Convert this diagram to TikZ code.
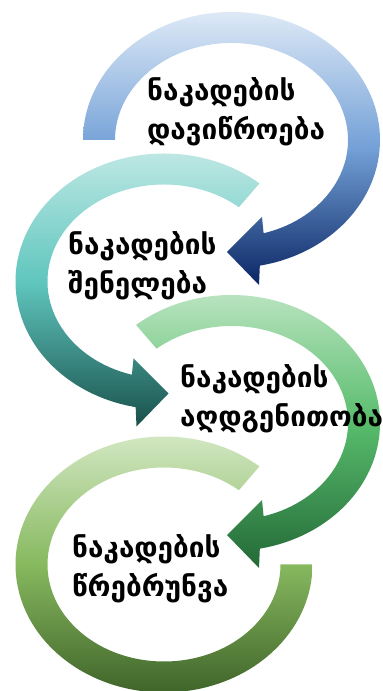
\documentclass[tikz,border=0pt]{standalone}
\usepackage{fontspec}
\newfontfamily\geofont{DejaVu Sans}
\usepackage{tikz}
\usetikzlibrary{calc}
\definecolor{blueA}{RGB}{221,233,246}
\definecolor{blueB}{RGB}{115,160,215}
\definecolor{blueC}{RGB}{10,38,100}
\definecolor{tealA}{RGB}{200,235,232}
\definecolor{tealB}{RGB}{95,198,190}
\definecolor{tealC}{RGB}{25,80,75}
\definecolor{greenA}{RGB}{195,232,200}
\definecolor{greenB}{RGB}{88,188,108}
\definecolor{greenC}{RGB}{35,105,55}
\definecolor{oliveA}{RGB}{218,236,205}
\definecolor{oliveB}{RGB}{135,185,95}
\definecolor{oliveC}{RGB}{55,90,35}
% band of one circular arrow, #1 = angle where it starts
\newcommand{\arrowring}[1]{(#1:148.5 and 128)
  arc[start angle=#1, end angle=-79, x radius=148.5, y radius=128]
  -- (27.5,-145) -- (-4.5,-112) -- (30.5,-77) -- (-74:116.5 and 97)
  arc[start angle=-74, end angle=#1, x radius=116.5, y radius=97] -- cycle}

\begin{document}
\begin{tikzpicture}[x=1bp, y=1bp,
 ring1/.style = {top color=blueA, bottom color=blueC, middle color=blueB},% shadings of arrows
 ring2/.style = {top color=tealA, bottom color=tealC, middle color=tealB},
 ring3/.style = {top color=greenA, bottom color=greenC, middle color=greenB},
 ring4/.style = {top color=oliveA, bottom color=oliveC, middle color=oliveB},
   lbl/.style = {anchor=west, align=left, inner sep=0pt, text=black,
                 font=\geofont\bfseries\fontsize{28}{39}\selectfont},
                        ]
\useasboundingbox (0,0) rectangle (382,691);
\coordinate (c1) at (231.5,551);
\coordinate (c2) at (164,409.5);
\coordinate (c3) at (231.5,268);
\coordinate (c4) at (164,126.5);
\begin{scope}[shift={(c1)}]
  \shade[ring1] \arrowring{180};
\end{scope}
\begin{scope}[shift={(c2)}, xscale=-1]
  \shade[ring2] \arrowring{130};
\end{scope}
\begin{scope}[shift={(c3)}]
  \shade[ring3] \arrowring{130};
\end{scope}
\begin{scope}[shift={(c4)}]
  \shade[ring4] (50:148.5 and 128)
    arc[start angle=50, end angle=360, x radius=148.5, y radius=128]
    -- (0:116.5 and 97)
    arc[start angle=360, end angle=50, x radius=116.5, y radius=97] -- cycle;
\end{scope}
\node[lbl] (t1) at (147,579) {ნაკადების\\დავიწროება};
\node[lbl] (t2) at (68,425) {ნაკადების\\შენელება};
\node[lbl] (t3) at (180,292) {ნაკადების\\აღდგენითობა};
\node[lbl] (t4) at (72,122) {ნაკადების\\წრებრუნვა};
\end{tikzpicture}
\end{document}
